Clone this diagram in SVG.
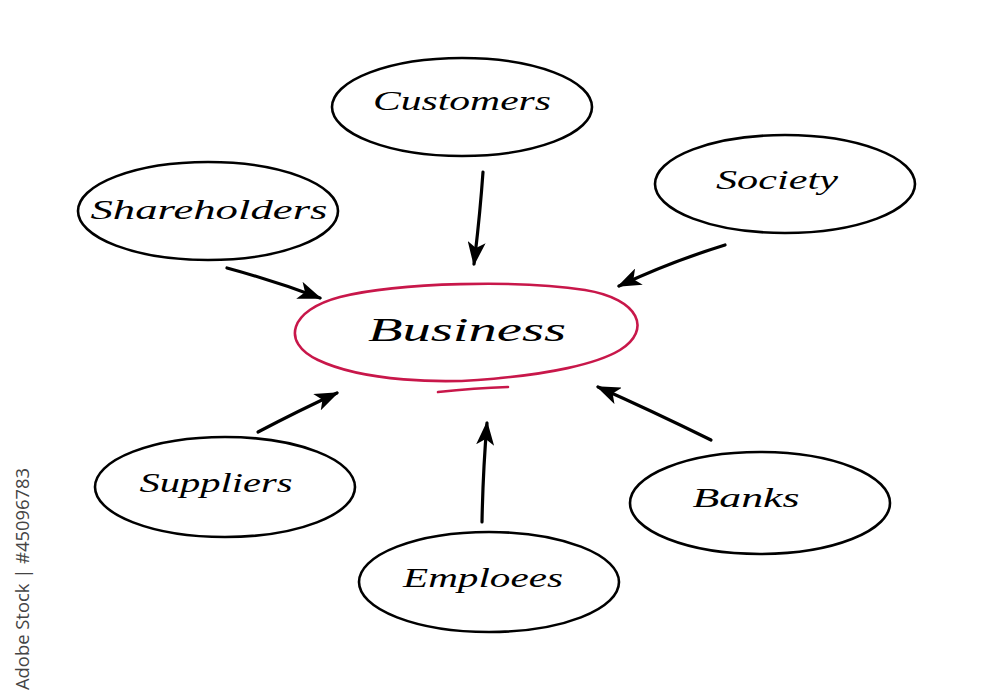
<svg xmlns="http://www.w3.org/2000/svg" width="1000" height="699" viewBox="0 0 1000 699">
<style>
.node{fill:none;stroke:#000;stroke-width:2.6}
.lbl{font-family:"Liberation Serif","DejaVu Serif",serif;font-style:italic;font-size:27px;fill:#000;text-anchor:middle}
.big{font-size:34px}
.con{stroke:#000;stroke-width:3.2;fill:none;stroke-linecap:round;marker-end:url(#ah)}
.red{fill:none;stroke:#c8174a;stroke-width:2.6;stroke-linecap:round}
.wm{font-family:"Open Sans","DejaVu Sans",sans-serif;font-size:19px;fill:#444}
</style>
<defs>
<marker id="ah" markerUnits="userSpaceOnUse" markerWidth="24" markerHeight="18" viewBox="0 0 24 18" refX="22" refY="9" orient="auto">
<path d="M0,0 L24,9 L0,18 L6,9 z" fill="#000"/>
</marker>
</defs>
<rect width="1000" height="699" fill="#fff"/>
<text class="wm" transform="translate(29,690) rotate(-90)" textLength="222" lengthAdjust="spacingAndGlyphs">Adobe Stock | #45096783</text>
<g id="connectors">
<path class="con" d="M483,172 Q480,215 474,264"/>
<path class="con" d="M725,245 Q670,262 619,286"/>
<path class="con" d="M227,268 Q275,281 320,298"/>
<path class="con" d="M258,432 Q300,410 337,393"/>
<path class="con" d="M711,440 Q650,410 598,387"/>
<path class="con" d="M482,522 Q483,470 487,423"/>
</g>
<g id="business">
<path class="red" d="M510,377 C440,386 360,380 318,360 C280,342 290,310 340,297 C400,282 520,280 585,290 C640,299 652,330 620,350 C595,365 545,374 500,378"/>
<path class="red" d="M438,392 Q475,388 508,387"/>
<text class="lbl big" x="467" y="341" textLength="198" lengthAdjust="spacingAndGlyphs">Business</text>
</g>
<g id="customers">
<ellipse class="node" cx="462" cy="107" rx="130" ry="49"/>
<text class="lbl" x="462" y="110" textLength="178" lengthAdjust="spacingAndGlyphs">Customers</text>
</g>
<g id="society">
<ellipse class="node" cx="785" cy="184" rx="130" ry="49"/>
<text class="lbl" x="777" y="189" textLength="122" lengthAdjust="spacingAndGlyphs">Society</text>
</g>
<g id="shareholders">
<ellipse class="node" cx="208" cy="211" rx="130" ry="49"/>
<text class="lbl" x="209" y="219" textLength="237" lengthAdjust="spacingAndGlyphs">Shareholders</text>
</g>
<g id="suppliers">
<ellipse class="node" cx="225" cy="487" rx="130" ry="50"/>
<text class="lbl" x="216" y="492" textLength="153" lengthAdjust="spacingAndGlyphs">Suppliers</text>
</g>
<g id="banks">
<ellipse class="node" cx="760" cy="503" rx="130" ry="51"/>
<text class="lbl" x="746" y="507" textLength="107" lengthAdjust="spacingAndGlyphs">Banks</text>
</g>
<g id="emploees">
<ellipse class="node" cx="489" cy="582" rx="130" ry="50"/>
<text class="lbl" x="483" y="587" textLength="160" lengthAdjust="spacingAndGlyphs">Emploees</text>
</g>
</svg>
